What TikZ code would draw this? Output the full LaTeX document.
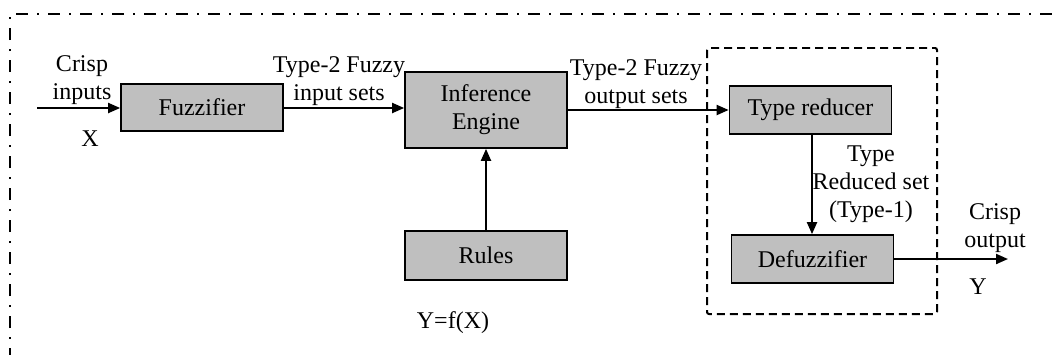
\documentclass[tikz,border=0pt]{standalone}
\usepackage{fontspec}
\setmainfont{Liberation Serif}
\usetikzlibrary{arrows.meta}

\tikzset{
	block/.style={draw, line width=0.3mm, fill=black!25, minimum width=81pt, font=\fontsize{12}{14}\selectfont},
	lbl/.style={align=center, inner sep=0pt, font=\fontsize{12}{14}\selectfont},
	flow/.style={line width=0.35mm, -{Triangle[length=6pt,width=5pt]}}
}

\begin{document}
\begin{tikzpicture}[x=0.5pt, y=-0.5pt]
		%%%%% START %%%%%
		\useasboundingbox (0, 0) rectangle (1052, 354);
		
		% outer frame, only top and left fall inside the page
		\draw[line width=0.5mm, dash pattern=on 6pt off 4.5pt on 1pt off 4.5pt] (10, 360) -- (10, 14) -- (1060, 14);
		
		% type reducer + defuzzifier group
		\draw[line width=0.35mm, dash pattern=on 4pt off 2.5pt, rounded corners=1pt] (707, 48) rectangle (937, 314);
		
		\node[block, minimum height=23.5pt] (fuzz) at (202, 107.5) {Fuzzifier};
		\node[block, minimum height=38pt, align=center] (inf) at (486, 110) {Inference\\Engine};
		\node[block, minimum height=24.5pt] (rules) at (486, 255.5) {Rules};
		\node[block, minimum height=24pt] (tred) at (810.5, 110) {Type reducer};
		\node[block, minimum height=24pt] (dfz) at (812.5, 259) {Defuzzifier};
		
		\coordinate (xin) at (37, 108);
		\coordinate (yout) at (1008, 259);
		
		\draw[flow] (xin) -- (xin -| fuzz.west);
		\draw[flow] (fuzz.east |- xin) -- (xin -| inf.west);
		\draw[flow] (inf.east) -- (tred.west);
		\draw[flow] (rules.north) -- (inf.south);
		\draw[flow] (tred.south -| 812, 0) -- (dfz.north -| 812, 0);
		\draw[flow] (dfz.east) -- (yout);
		
		\node[lbl] (crin) at (82, 80) {Crisp\\inputs};
		\node[lbl] (xlbl) at (90, 139) {X};
		\node[lbl] (t2in) at (339, 81) {Type-2 Fuzzy\\input sets};
		\node[lbl] (t2out) at (636, 84) {Type-2 Fuzzy\\output sets};
		\node[lbl] (trset) at (871, 184) {Type\\Reduced set\\(Type-1)};
		\node[lbl] (crout) at (995, 228) {Crisp\\output};
		\node[lbl] (ylbl) at (978, 287) {Y};
		\node[lbl] (fx) at (453, 323) {Y=f(X)};
		
		%%%%% END %%%%%
	\end{tikzpicture}
\end{document}
